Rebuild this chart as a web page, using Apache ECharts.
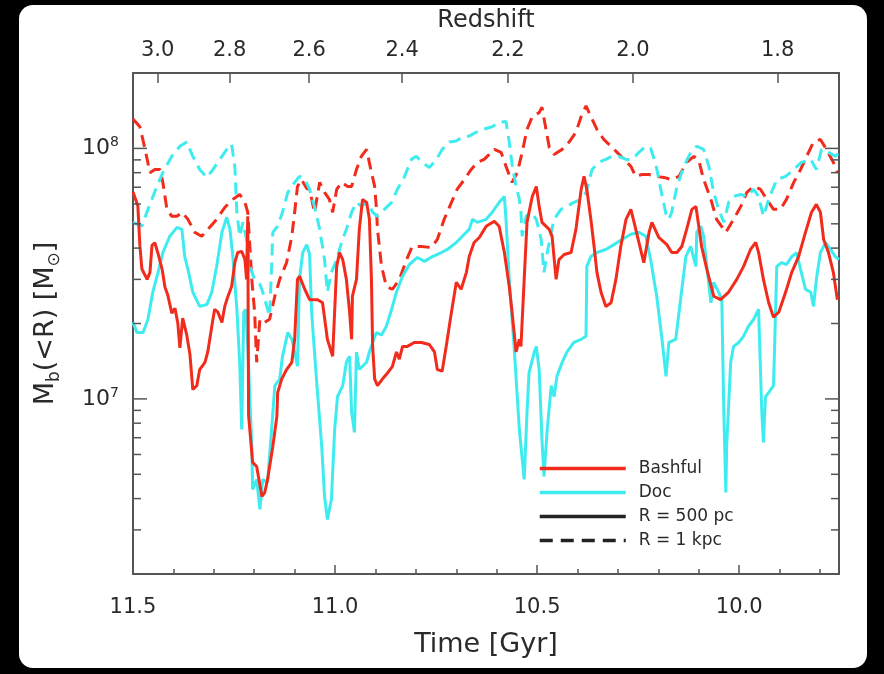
<!DOCTYPE html>
<html><head><meta charset="utf-8">
<script src="https://cdn.jsdelivr.net/npm/echarts@6/dist/echarts.min.js"></script>
<style>
html,body{margin:0;padding:0;background:#000;width:884px;height:674px;overflow:hidden;}
#frame{position:absolute;left:19px;top:5px;width:848px;height:663px;background:#fff;border-radius:14px;}
#chart{position:absolute;left:0;top:0;width:884px;height:674px;}
</style></head>
<body><div id="frame"></div><div id="chart"></div>
<script>
// ---- axis / tick data ----
const timeMax = 11.5;
const timeMin = 9.753;
const massMin = 2e6;
const massMax = 2e8;
const timeMajorTicks = [11.5, 11.0, 10.5, 10.0];
const timeMinorTicks = [11.4, 11.3, 11.2, 11.1, 10.9, 10.8, 10.7, 10.6, 10.4, 10.3, 10.2, 10.1, 9.9, 9.8];
const redshiftLabels = ['3.0', '2.8', '2.6', '2.4', '2.2', '2.0', '1.8'];
const redshiftTimes = [11.439, 11.261, 11.064, 10.834, 10.572, 10.263, 9.905];
const massMajorTicks = [1e7, 1e8];
const massMinorTicks = [2e6, 3e6, 4e6, 5e6, 6e6, 7e6, 8e6, 9e6, 2e7, 3e7, 4e7, 5e7, 6e7, 7e7, 8e7, 9e7];

// ---- series data: [time (Gyr), M_b(<R) (Msun)] ----
const bashful500 = [[11.500,6.7e7],[11.488,5.9e7],[11.483,4.1e7],[11.478,3.3e7],[11.465,3.0e7],[11.458,3.2e7],[11.453,4.1e7],[11.446,4.2e7],[11.438,3.8e7],[11.428,3.3e7],[11.421,2.8e7],[11.414,2.6e7],[11.404,2.2e7],[11.396,2.3e7],[11.389,2.0e7],[11.384,1.6e7],[11.377,2.1e7],[11.367,1.8e7],[11.359,1.5e7],[11.352,1.09e7],[11.342,1.13e7],[11.335,1.31e7],[11.322,1.4e7],[11.315,1.54e7],[11.305,1.95e7],[11.298,2.28e7],[11.290,2.22e7],[11.280,2.02e7],[11.273,2.34e7],[11.265,2.57e7],[11.256,2.81e7],[11.248,3.5e7],[11.241,3.84e7],[11.231,3.88e7],[11.223,3.6e7],[11.219,3.0e7],[11.216,5.36e7],[11.214,8.6e6],[11.204,5.58e6],[11.194,5.37e6],[11.181,4.08e6],[11.174,4.23e6],[11.167,4.77e6],[11.154,6.46e6],[11.144,8.52e6],[11.142,1.06e7],[11.132,1.2e7],[11.120,1.31e7],[11.107,1.4e7],[11.100,1.73e7],[11.093,3.0e7],[11.088,3.09e7],[11.075,2.74e7],[11.063,2.49e7],[11.043,2.49e7],[11.031,2.42e7],[11.019,1.73e7],[11.006,1.48e7],[10.996,3.38e7],[10.989,3.84e7],[10.981,3.6e7],[10.972,3.0e7],[10.964,2.22e7],[10.959,1.73e7],[10.957,2.57e7],[10.947,3.0e7],[10.940,4.75e7],[10.932,6.26e7],[10.922,6.09e7],[10.915,5.21e7],[10.910,3.0e7],[10.907,1.62e7],[10.902,1.2e7],[10.895,1.13e7],[10.883,1.2e7],[10.870,1.27e7],[10.858,1.35e7],[10.848,1.54e7],[10.841,1.44e7],[10.833,1.62e7],[10.821,1.62e7],[10.804,1.68e7],[10.786,1.68e7],[10.767,1.65e7],[10.754,1.54e7],[10.747,1.31e7],[10.735,1.29e7],[10.725,1.62e7],[10.712,2.22e7],[10.700,2.92e7],[10.688,2.74e7],[10.675,3.2e7],[10.668,3.7e7],[10.656,4.21e7],[10.643,4.41e7],[10.626,4.89e7],[10.606,5.12e7],[10.594,4.89e7],[10.581,3.84e7],[10.569,2.81e7],[10.562,2.22e7],[10.552,1.54e7],[10.544,1.73e7],[10.540,1.62e7],[10.532,3.0e7],[10.525,5.07e7],[10.512,6.43e7],[10.502,7.05e7],[10.495,5.87e7],[10.488,5.07e7],[10.470,4.75e7],[10.463,4.46e7],[10.453,3.0e7],[10.446,3.6e7],[10.433,3.77e7],[10.416,3.84e7],[10.404,4.75e7],[10.391,6.86e7],[10.384,7.73e7],[10.377,6.86e7],[10.367,5.21e7],[10.359,4.06e7],[10.352,3.2e7],[10.342,2.67e7],[10.330,2.34e7],[10.317,2.42e7],[10.305,3.0e7],[10.293,4.06e7],[10.280,5.21e7],[10.268,5.71e7],[10.260,5.07e7],[10.248,4.21e7],[10.236,3.5e7],[10.223,4.62e7],[10.216,5.07e7],[10.199,4.41e7],[10.179,4.13e7],[10.167,3.84e7],[10.154,3.84e7],[10.142,4.06e7],[10.130,4.75e7],[10.117,5.71e7],[10.107,5.87e7],[10.100,4.89e7],[10.093,4.06e7],[10.080,3.29e7],[10.063,2.57e7],[10.046,2.49e7],[10.026,2.67e7],[10.006,3.0e7],[9.989,3.38e7],[9.972,3.95e7],[9.959,4.21e7],[9.952,3.84e7],[9.940,3.0e7],[9.927,2.42e7],[9.915,2.12e7],[9.902,2.22e7],[9.885,2.67e7],[9.870,3.2e7],[9.853,3.7e7],[9.836,4.62e7],[9.821,5.56e7],[9.809,5.98e7],[9.799,5.56e7],[9.791,4.33e7],[9.779,3.84e7],[9.767,3.2e7],[9.757,2.49e7]];

const doc500 = [[11.500,2.02e7],[11.490,1.84e7],[11.475,1.84e7],[11.463,2.08e7],[11.451,2.67e7],[11.438,3.2e7],[11.426,3.84e7],[11.409,4.46e7],[11.391,4.84e7],[11.379,4.75e7],[11.372,3.7e7],[11.364,3.29e7],[11.352,2.67e7],[11.335,2.34e7],[11.317,2.38e7],[11.305,2.67e7],[11.293,3.38e7],[11.280,4.62e7],[11.268,5.31e7],[11.260,4.75e7],[11.253,3.7e7],[11.243,2.28e7],[11.236,1.4e7],[11.231,7.55e6],[11.226,2.22e7],[11.221,2.28e7],[11.216,1.62e7],[11.206,6.46e6],[11.204,4.35e6],[11.194,4.77e6],[11.186,3.62e6],[11.179,4.77e6],[11.167,4.64e6],[11.157,7.55e6],[11.149,1.13e7],[11.137,1.2e7],[11.130,1.48e7],[11.117,1.84e7],[11.107,1.73e7],[11.100,1.54e7],[11.093,1.35e7],[11.088,3.0e7],[11.080,3.84e7],[11.070,4.13e7],[11.063,3.77e7],[11.058,2.22e7],[11.046,1.2e7],[11.033,6.46e6],[11.026,4.08e6],[11.019,3.3e6],[11.009,3.97e6],[11.001,7.55e6],[10.994,1.02e7],[10.981,1.13e7],[10.972,1.4e7],[10.964,1.48e7],[10.959,8.84e6],[10.952,7.35e6],[10.947,1.54e7],[10.940,1.31e7],[10.932,1.35e7],[10.922,1.4e7],[10.915,1.54e7],[10.907,1.68e7],[10.898,1.84e7],[10.885,1.8e7],[10.873,1.95e7],[10.860,2.28e7],[10.848,2.67e7],[10.833,3.09e7],[10.816,3.44e7],[10.796,3.67e7],[10.779,3.54e7],[10.759,3.7e7],[10.737,3.84e7],[10.722,3.95e7],[10.700,4.21e7],[10.685,4.46e7],[10.668,4.75e7],[10.660,5.21e7],[10.648,5.07e7],[10.626,5.21e7],[10.611,5.56e7],[10.594,6.09e7],[10.581,6.43e7],[10.577,5.21e7],[10.569,3.0e7],[10.557,1.62e7],[10.544,7.55e6],[10.532,4.77e6],[10.525,8.84e6],[10.520,1.27e7],[10.507,1.54e7],[10.502,1.62e7],[10.495,1.31e7],[10.488,6.89e6],[10.483,4.9e6],[10.475,7.55e6],[10.465,1.13e7],[10.458,1.02e7],[10.451,1.23e7],[10.438,1.4e7],[10.426,1.54e7],[10.409,1.68e7],[10.391,1.73e7],[10.379,1.78e7],[10.377,3.38e7],[10.367,3.7e7],[10.352,3.84e7],[10.330,3.95e7],[10.310,4.13e7],[10.290,4.33e7],[10.268,4.54e7],[10.248,4.62e7],[10.231,4.46e7],[10.219,3.6e7],[10.211,3.0e7],[10.204,2.57e7],[10.191,1.73e7],[10.181,1.23e7],[10.174,1.68e7],[10.157,1.73e7],[10.144,2.57e7],[10.132,3.7e7],[10.120,4.06e7],[10.107,3.38e7],[10.105,4.62e7],[10.095,4.89e7],[10.088,4.46e7],[10.080,3.38e7],[10.070,2.42e7],[10.063,2.92e7],[10.051,2.67e7],[10.043,2.49e7],[10.038,8.84e6],[10.033,4.23e6],[10.031,6.46e6],[10.021,1.4e7],[10.014,1.62e7],[10.001,1.68e7],[9.989,1.78e7],[9.977,1.95e7],[9.964,2.08e7],[9.952,2.28e7],[9.944,8.84e6],[9.940,6.7e6],[9.935,1.02e7],[9.927,1.06e7],[9.915,1.13e7],[9.907,3.38e7],[9.895,3.5e7],[9.883,3.44e7],[9.870,3.7e7],[9.858,3.84e7],[9.848,3.29e7],[9.836,2.74e7],[9.823,2.67e7],[9.816,2.34e7],[9.809,3.0e7],[9.799,3.84e7],[9.786,4.21e7],[9.774,3.95e7],[9.762,3.7e7],[9.753,3.6e7]];

const bashful1kpc = [[11.500,1.31e8],[11.483,1.22e8],[11.470,9.9e7],[11.458,8.0e7],[11.446,8.24e7],[11.433,8.24e7],[11.426,7.3e7],[11.416,5.7e7],[11.404,5.36e7],[11.391,5.36e7],[11.379,5.56e7],[11.364,5.21e7],[11.347,4.62e7],[11.330,4.46e7],[11.315,4.75e7],[11.293,5.21e7],[11.273,5.81e7],[11.253,6.26e7],[11.236,6.55e7],[11.223,6.09e7],[11.216,5.56e7],[11.206,3.0e7],[11.199,2.22e7],[11.194,1.4e7],[11.186,2.08e7],[11.174,2.02e7],[11.162,2.08e7],[11.149,2.57e7],[11.137,3.0e7],[11.120,3.5e7],[11.107,4.46e7],[11.100,5.56e7],[11.093,7.05e7],[11.083,7.52e7],[11.070,6.92e7],[11.063,6.86e7],[11.051,5.56e7],[11.038,7.32e7],[11.026,6.67e7],[11.014,6.26e7],[11.006,5.56e7],[10.996,6.86e7],[10.984,7.32e7],[10.969,7.05e7],[10.959,7.05e7],[10.947,8.24e7],[10.935,9.3e7],[10.922,9.91e7],[10.910,8.02e7],[10.902,7.05e7],[10.898,5.87e7],[10.895,4.75e7],[10.885,3.38e7],[10.873,2.81e7],[10.858,2.74e7],[10.841,3.0e7],[10.823,3.6e7],[10.809,4.06e7],[10.786,4.06e7],[10.762,4.02e7],[10.747,4.33e7],[10.730,5.21e7],[10.712,6.09e7],[10.698,6.86e7],[10.680,7.52e7],[10.663,8.24e7],[10.648,8.8e7],[10.631,9.04e7],[10.606,9.91e7],[10.589,9.64e7],[10.577,8.48e7],[10.562,7.32e7],[10.549,8.02e7],[10.537,9.64e7],[10.525,1.19e8],[10.512,1.34e8],[10.495,1.39e8],[10.488,1.46e8],[10.478,1.19e8],[10.470,1.01e8],[10.458,9.46e7],[10.438,9.91e7],[10.421,1.06e8],[10.404,1.16e8],[10.391,1.34e8],[10.379,1.48e8],[10.367,1.34e8],[10.352,1.19e8],[10.335,1.086e8],[10.317,1.02e8],[10.302,9.64e7],[10.285,9.04e7],[10.268,8.48e7],[10.256,7.73e7],[10.241,7.87e7],[10.223,7.87e7],[10.206,7.73e7],[10.186,7.66e7],[10.169,7.52e7],[10.149,7.73e7],[10.130,8.8e7],[10.112,9.3e7],[10.100,8.96e7],[10.088,7.52e7],[10.070,6.26e7],[10.056,5.21e7],[10.033,4.62e7],[10.014,5.21e7],[9.996,5.87e7],[9.981,6.67e7],[9.964,7.05e7],[9.947,6.86e7],[9.932,6.26e7],[9.915,5.71e7],[9.898,5.71e7],[9.883,6.26e7],[9.865,7.32e7],[9.848,8.24e7],[9.833,9.3e7],[9.816,1.06e8],[9.799,1.086e8],[9.784,9.91e7],[9.767,8.8e7],[9.757,8.02e7]];

const doc1kpc = [[11.500,5.07e7],[11.478,4.89e7],[11.463,5.71e7],[11.441,7.05e7],[11.426,8.02e7],[11.404,9.3e7],[11.384,1.02e8],[11.367,1.06e8],[11.352,9.3e7],[11.335,8.24e7],[11.317,7.66e7],[11.302,8.24e7],[11.285,9.04e7],[11.268,9.91e7],[11.256,1.04e8],[11.248,8.48e7],[11.243,5.56e7],[11.236,4.46e7],[11.228,5.07e7],[11.219,4.33e7],[11.211,3.38e7],[11.199,3.0e7],[11.186,2.87e7],[11.179,2.67e7],[11.169,2.34e7],[11.162,2.14e7],[11.157,3.38e7],[11.154,4.62e7],[11.142,4.89e7],[11.130,5.56e7],[11.117,6.67e7],[11.100,7.32e7],[11.088,7.73e7],[11.075,7.52e7],[11.063,6.86e7],[11.051,5.87e7],[11.038,4.75e7],[11.026,3.6e7],[11.019,2.67e7],[11.009,3.2e7],[10.996,3.6e7],[10.984,4.21e7],[10.972,4.75e7],[10.959,5.56e7],[10.947,6.09e7],[10.935,5.87e7],[10.920,6.09e7],[10.907,5.56e7],[10.895,5.36e7],[10.878,5.71e7],[10.860,6.09e7],[10.846,6.86e7],[10.828,7.73e7],[10.811,9.04e7],[10.799,9.3e7],[10.784,8.8e7],[10.767,8.39e7],[10.749,9.04e7],[10.735,9.91e7],[10.717,1.06e8],[10.700,1.07e8],[10.685,1.11e8],[10.668,1.12e8],[10.651,1.16e8],[10.636,1.19e8],[10.611,1.22e8],[10.594,1.27e8],[10.577,1.28e8],[10.569,1.06e8],[10.562,8.63e7],[10.552,7.05e7],[10.544,6.26e7],[10.540,5.56e7],[10.537,4.46e7],[10.527,5.36e7],[10.515,5.56e7],[10.502,5.21e7],[10.490,4.33e7],[10.483,3.2e7],[10.475,3.84e7],[10.465,4.62e7],[10.458,5.21e7],[10.441,5.71e7],[10.426,5.87e7],[10.409,6.09e7],[10.391,6.26e7],[10.379,6.67e7],[10.364,8.24e7],[10.347,8.8e7],[10.330,9.04e7],[10.315,9.3e7],[10.298,9.3e7],[10.280,9.04e7],[10.265,9.04e7],[10.248,9.64e7],[10.231,1.02e8],[10.219,1.0e8],[10.206,8.63e7],[10.194,6.86e7],[10.181,5.46e7],[10.174,5.21e7],[10.167,5.56e7],[10.154,7.05e7],[10.137,8.48e7],[10.120,9.64e7],[10.105,1.02e8],[10.088,9.91e7],[10.075,8.48e7],[10.063,6.67e7],[10.051,5.71e7],[10.038,5.07e7],[10.026,6.09e7],[10.014,6.43e7],[9.996,6.55e7],[9.981,6.43e7],[9.964,6.86e7],[9.952,6.43e7],[9.940,5.36e7],[9.927,6.26e7],[9.907,7.52e7],[9.885,7.73e7],[9.865,8.24e7],[9.846,8.8e7],[9.823,9.04e7],[9.809,8.24e7],[9.796,9.91e7],[9.779,9.64e7],[9.762,9.3e7],[9.753,9.6e7]];

// ---- styles ----
const RED = '#f22c1d';
const CYAN = '#3eecf0';
const AXIS = '#555555';
const TEXT = '#2a2a2a';
const FONT = 'DejaVu Sans';
const DASH = [12, 7];
const LW = 3;

const gridBox = {left: 133, top: 73, width: 706, height: 501};

function redshiftFor(v) {
  const i = redshiftTimes.findIndex(t => Math.abs(t - v) < 1e-9);
  return i >= 0 ? redshiftLabels[i] : '';
}

const yTickData = massMinorTicks.map(v => [timeMax, v, 0]).concat(massMajorTicks.map(v => [timeMax, v, 1]));

const option = {
  animation: false,
  backgroundColor: 'transparent',
  textStyle: {fontFamily: FONT, color: TEXT},
  grid: [Object.assign({}, gridBox), Object.assign({}, gridBox)],
  legend: {
    data: ['Bashful', 'Doc', 'R = 500 pc', 'R = 1 kpc'],
    orient: 'vertical', left: 533, top: 455,
    itemWidth: 86, itemHeight: 16, itemGap: 7,
    selectedMode: false,
    itemStyle: {opacity: 0},
    lineStyle: {width: 3.5},
    textStyle: {fontFamily: FONT, fontSize: 17, lineHeight: 16, color: TEXT, padding: [0, 0, 0, 8]}
  },
  xAxis: [
    {
      gridIndex: 0, type: 'value', position: 'bottom', min: timeMin, max: timeMax, inverse: true,
      axisLine: {lineStyle: {color: AXIS, width: 2}},
      axisTick: {inside: true, length: 9, customValues: timeMajorTicks, lineStyle: {color: AXIS, width: 1.5}},
      axisLabel: {customValues: timeMajorTicks, formatter: v => v.toFixed(1), margin: 23, fontSize: 21, color: TEXT, fontFamily: FONT},
      splitLine: {show: false},
      name: 'Time [Gyr]', nameLocation: 'middle', nameGap: 57,
      nameTextStyle: {fontSize: 27, color: TEXT, fontFamily: FONT}
    },
    {
      gridIndex: 0, type: 'value', position: 'top', min: timeMin, max: timeMax, inverse: true,
      axisLine: {lineStyle: {color: AXIS, width: 2}},
      axisTick: {inside: true, length: 10, customValues: redshiftTimes, lineStyle: {color: AXIS, width: 1.5}},
      axisLabel: {customValues: redshiftTimes, formatter: v => redshiftFor(v), margin: 12, fontSize: 21, color: TEXT, fontFamily: FONT},
      splitLine: {show: false},
      name: 'Redshift', nameLocation: 'middle', nameGap: 40,
      nameTextStyle: {fontSize: 24, color: TEXT, fontFamily: FONT}
    },
    {
      gridIndex: 1, type: 'value', position: 'bottom', min: timeMin, max: timeMax, inverse: true,
      axisLine: {show: false},
      axisTick: {inside: true, length: 5, customValues: timeMinorTicks, lineStyle: {color: AXIS, width: 1.5}},
      axisLabel: {show: false},
      splitLine: {show: false}
    }
  ],
  yAxis: [
    {
      gridIndex: 0, type: 'log', logBase: 10, position: 'left', min: massMin, max: massMax,
      axisLine: {lineStyle: {color: AXIS, width: 2}},
      axisTick: {show: false},
      axisLabel: {
        margin: 14, fontSize: 22, color: TEXT, fontFamily: FONT, lineHeight: 26,
        formatter: v => {
          const e = Math.log10(v);
          return Math.abs(e - Math.round(e)) < 1e-6 ? '10{e|' + Math.round(e) + '}' : '';
        },
        rich: {e: {fontSize: 14, lineHeight: 14, verticalAlign: 'top', color: TEXT, fontFamily: FONT}}
      },
      splitLine: {show: false},
      name: 'M{s|b}(<R) [M{s|⊙}]', nameLocation: 'middle', nameGap: 70, nameRotate: 90,
      nameTextStyle: {fontSize: 27, lineHeight: 34, color: TEXT, fontFamily: FONT,
        rich: {s: {fontSize: 17, lineHeight: 17, verticalAlign: 'bottom', color: TEXT, fontFamily: FONT}}}
    },
    {
      gridIndex: 0, type: 'log', logBase: 10, position: 'right', min: massMin, max: massMax,
      axisLine: {lineStyle: {color: AXIS, width: 2}},
      axisTick: {show: false}, axisLabel: {show: false}, splitLine: {show: false}
    },
    {
      gridIndex: 1, type: 'value', show: false
    }
  ],
  series: [
    {
      name: 'yTicks', type: 'custom', xAxisIndex: 0, yAxisIndex: 0, silent: true, z: 5,
      data: yTickData,
      renderItem: (params, api) => {
        const v = api.value(1);
        const len = api.value(2) === 1 ? 14 : 8;
        const pl = api.coord([timeMax, v]);
        const pr = api.coord([timeMin, v]);
        const st = {stroke: AXIS, lineWidth: 1.5};
        return {type: 'group', children: [
          {type: 'line', shape: {x1: pl[0], y1: pl[1], x2: pl[0] + len, y2: pl[1]}, style: st},
          {type: 'line', shape: {x1: pr[0], y1: pr[1], x2: pr[0] - len, y2: pr[1]}, style: st}
        ]};
      }
    },
    {name: 'Bashful 1 kpc', type: 'line', xAxisIndex: 0, yAxisIndex: 0, data: bashful1kpc, symbol: 'none',
      lineStyle: {color: RED, width: LW, type: DASH}, itemStyle: {color: RED}},
    {name: 'Doc 1 kpc', type: 'line', xAxisIndex: 0, yAxisIndex: 0, data: doc1kpc, symbol: 'none',
      lineStyle: {color: CYAN, width: LW, type: DASH}, itemStyle: {color: CYAN}},
    {name: 'Doc', type: 'line', xAxisIndex: 0, yAxisIndex: 0, data: doc500, symbol: 'none',
      lineStyle: {color: CYAN, width: LW}, itemStyle: {color: CYAN}},
    {name: 'Bashful', type: 'line', xAxisIndex: 0, yAxisIndex: 0, data: bashful500, symbol: 'none',
      lineStyle: {color: RED, width: LW}, itemStyle: {color: RED}},
    {name: 'R = 500 pc', type: 'line', xAxisIndex: 0, yAxisIndex: 0, data: [], symbol: 'none',
      lineStyle: {color: '#222', width: 3.5}, itemStyle: {color: '#222'}},
    {name: 'R = 1 kpc', type: 'line', xAxisIndex: 0, yAxisIndex: 0, data: [], symbol: 'none',
      lineStyle: {color: '#222', width: 3.5, type: [13, 8]}, itemStyle: {color: '#222'}}
  ]
};

const chart = echarts.init(document.getElementById('chart'), null, {renderer: 'canvas', width: 884, height: 674});
chart.setOption(option);
</script>
</body></html>
